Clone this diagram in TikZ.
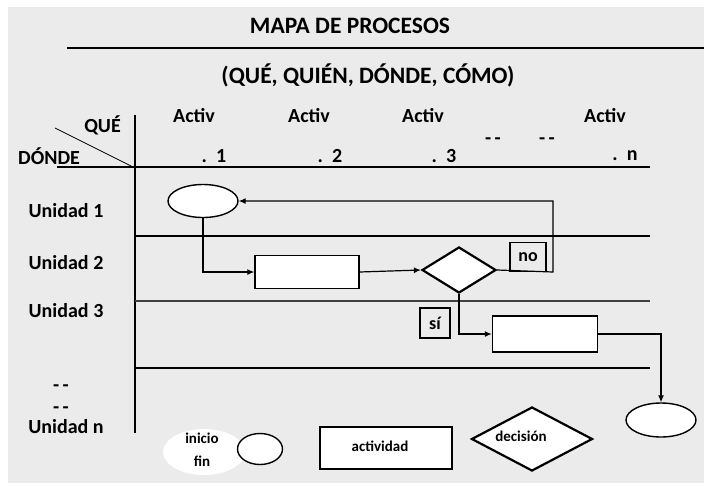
\documentclass[tikz,border=0pt]{standalone}
\usepackage{fontspec}
\setmainfont{Carlito}
\usetikzlibrary{shapes.geometric,arrows.meta}
\definecolor{bg}{HTML}{EBEBEB}
\tikzset{
  lbl/.style={font=\bfseries\fontsize{20}{22}\selectfont, inner sep=0pt},
  small/.style={font=\bfseries\fontsize{15}{17}\selectfont, inner sep=0pt},
  ln/.style={line width=1.4pt},
  shp/.style={draw, line width=1.4pt, fill=white, inner sep=0pt},
  arr/.style={line width=1.2pt, -{Latex[length=7pt,width=6pt]}},
}
\begin{document}
\begin{tikzpicture}[x=1pt,y=-1pt]
\useasboundingbox (0,0) rectangle (704,485);
\fill[white] (0,0) rectangle (704,485);
\fill[bg] (8,7) rectangle (704,483);
% title
\node[font=\bfseries\fontsize{23.5}{25}\selectfont, inner sep=0pt] (title) at (350,26) {MAPA DE PROCESOS};
\coordinate (tl1) at (67,48); \coordinate (tl2) at (704,48);
\draw[ln] (tl1) -- (tl2);
\node[font=\bfseries\fontsize{23.5}{25}\selectfont, inner sep=0pt] (sub) at (368,75) {(QUÉ, QUIÉN, DÓNDE, CÓMO)};
% header
\node[lbl, anchor=east] (que) at (121,125) {QUÉ};
\node[lbl, anchor=west] (donde) at (18,156) {DÓNDE};
\coordinate (d1) at (55,128); \coordinate (d2) at (133,167);
\draw[line width=0.8pt] (d1) -- (d2);
\coordinate (v1) at (135,115); \coordinate (v2) at (135,433);
\draw[ln] (v1) -- (v2);
\coordinate (h1) at (57,167); \coordinate (h2) at (650,167);
\draw[ln] (h1) -- (h2);
\node[lbl] (a1) at (194,116) {Activ};
\node[lbl] (a2) at (309,116) {Activ};
\node[lbl] (a3) at (423,116) {Activ};
\node[lbl] (an) at (605,116) {Activ};
\node[lbl] (n1) at (214,156) {.\ \ 1};
\node[lbl] (n2) at (330,156) {.\ \ 2};
\node[lbl] (n3) at (444,156) {.\ \ 3};
\node[lbl] (nn) at (625,156) {.\ \ n};
\node[lbl] (dd1) at (493,141) {-\,-};
\node[lbl] (dd2) at (547,141) {-\,-};
% lanes
\coordinate (l1a) at (135,236); \coordinate (l1b) at (650,236);
\coordinate (l2a) at (135,301); \coordinate (l2b) at (650,301);
\coordinate (l3a) at (135,368); \coordinate (l3b) at (650,368);
\draw[ln] (l1a) -- (l1b);
\draw[line width=2pt, black!75] (l2a) -- (l2b);
\draw[ln] (l3a) -- (l3b);
\node[lbl] (u1) at (66,211) {Unidad 1};
\node[lbl] (u2) at (66,263) {Unidad 2};
\node[lbl] (u3) at (66,311) {Unidad 3};
\node[lbl] (ud1) at (61,388) {-\,-};
\node[lbl] (ud2) at (61,410) {-\,-};
\node[lbl] (un) at (66,427) {Unidad n};
% flow
\node[shp, ellipse, minimum width=70pt, minimum height=33pt] (start) at (203,201) {};
\node[shp, rectangle, minimum width=104pt, minimum height=33pt] (r1) at (307,272) {};
\node[shp, diamond, line width=2.2pt, minimum width=74pt, minimum height=46pt] (dia) at (459,270) {};
\node[shp, rectangle, minimum width=105pt, minimum height=36pt] (r2) at (545,334) {};
\node[shp, ellipse, minimum width=70pt, minimum height=34pt] (end) at (661,420) {};
\node[draw, line width=1.2pt, minimum width=36pt, minimum height=29pt, inner sep=0pt, font=\bfseries\fontsize{18}{19}\selectfont] (no) at (528,257) {no};
\node[draw, line width=1.2pt, minimum width=30pt, minimum height=30pt, inner sep=0pt, font=\bfseries\fontsize{18}{19}\selectfont] (si) at (435,323) {sí};
\coordinate (loop) at (553,272);
\draw[arr] (start.south) |- (r1.west);
\draw[arr] (r1.east) -- (dia.west);
\draw[arr] (dia.east) -- (loop) |- (start.east);
\draw[arr] (dia.south) |- (r2.west);
\draw[arr] (r2.east) -| (end.north);
% legend
\node[fill=white, ellipse, minimum width=82pt, minimum height=46pt, inner sep=0pt] (blob) at (204,452) {};
\node[small] (ini) at (202,438) {inicio};
\node[small] (fin) at (202,461) {fin};
\node[shp, ellipse, minimum width=45pt, minimum height=31pt] (lc) at (260,449) {};
\node[shp, rectangle, minimum width=132pt, minimum height=42pt] (lr) at (386,448) {};
\node[small] (lrt) at (380,446) {actividad};
\node[shp, diamond, line width=2.2pt, minimum width=121pt, minimum height=64pt] (ld) at (532,439) {};
\node[small] (ldt) at (521,436) {decisión};
\end{tikzpicture}
\end{document}
